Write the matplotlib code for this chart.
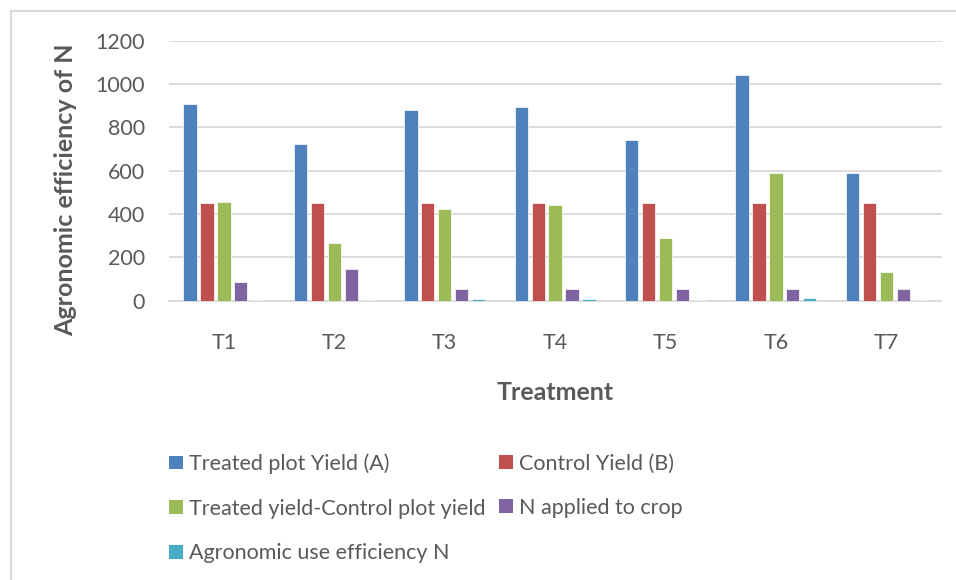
import matplotlib
matplotlib.use("Agg")
import matplotlib.pyplot as plt
import numpy as np
from matplotlib.lines import Line2D
from matplotlib.patches import Patch

plt.rcParams["font.family"] = ["Lato", "DejaVu Sans"]

treatments = ["T1", "T2", "T3", "T4", "T5", "T6", "T7"]
treated_yield = [909, 723, 880, 894, 744, 1041, 588]
control_yield = [451, 451, 451, 451, 451, 451, 451]
yield_diff = [454, 266, 423, 440, 289, 588, 132]
n_applied = [86, 145, 54, 54, 54, 54, 54]
agro_eff = [5.3, 1.8, 7.8, 8.1, 5.4, 10.9, 2.4]

series = [
    ("Treated plot Yield (A)", treated_yield, "#4f81bd"),
    ("Control Yield (B)", control_yield, "#c0504d"),
    ("Treated yield-Control plot yield", yield_diff, "#9bbb59"),
    ("N applied to crop", n_applied, "#8064a2"),
    ("Agronomic use efficiency N", agro_eff, "#4bacc6"),
]

TEXT = "#595959"
GRID = "#d9d9d9"

fig = plt.figure(figsize=(9.56, 5.8), dpi=100)
ax = fig.add_axes([168.7 / 956, 1 - 300.7 / 580, (941.5 - 168.7) / 956, 260 / 580])

x = np.arange(len(treatments))
pitch = 0.153
width = 0.12
for i, (label, vals, color) in enumerate(series):
    ax.bar(x + (i - 2) * pitch, vals, width=width, color=color,
           edgecolor="white", linewidth=0.5, zorder=3)

ax.set_xlim(-0.5, len(treatments) - 0.5)
ax.set_ylim(0, 1200)
ax.set_yticks(range(0, 1201, 200))
ax.set_xticks(x)
ax.set_xticklabels(treatments)
ax.yaxis.grid(True, color=GRID, linewidth=1.3, zorder=0)
ax.set_axisbelow(True)
for s in ["top", "right", "left"]:
    ax.spines[s].set_visible(False)
ax.spines["bottom"].set_color(GRID)
ax.spines["bottom"].set_linewidth(1.3)
ax.tick_params(axis="both", length=0, labelsize=15.5, labelcolor=TEXT)
ax.tick_params(axis="x", pad=23)
ax.tick_params(axis="y", pad=17)

fig.text(66 / 956, 1 - 190 / 580, "Agronomic efficiency of N", rotation=90,
         ha="center", va="center", fontsize=18, fontweight="bold", color=TEXT)
fig.text(555 / 956, 1 - 392 / 580, "Treatment", ha="center", va="center",
         fontsize=18, fontweight="bold", color=TEXT)

# legend in two fixed columns, like the Excel layout
handles = [Patch(facecolor=c, edgecolor="none", label=l) for l, _, c in series]
leg_kw = dict(loc="upper left", frameon=False, fontsize=15.5, borderpad=0,
              borderaxespad=0, handlelength=0.62, handleheight=0.62,
              handletextpad=0.3, labelspacing=1.14)
col1 = [0, 2, 4]
col2 = [1, 3]
leg1 = fig.legend([handles[k] for k in col1], [series[k][0] for k in col1],
                  bbox_to_anchor=(169.3 / 956, 1 - 453.5 / 580), **leg_kw)
leg2 = fig.legend([handles[k] for k in col2], [series[k][0] for k in col2],
                  bbox_to_anchor=(499.3 / 956, 1 - 453.5 / 580), **leg_kw)
for leg in (leg1, leg2):
    for t in leg.get_texts():
        t.set_color(TEXT)

# chart-area border (left and top edges visible)
fig.add_artist(Line2D([10.5 / 956, 10.5 / 956], [0, 1 - 11 / 580],
                      transform=fig.transFigure, color=GRID, linewidth=1.5))
fig.add_artist(Line2D([10.5 / 956, 1], [1 - 11 / 580, 1 - 11 / 580],
                      transform=fig.transFigure, color=GRID, linewidth=1.5))

fig.savefig("out.png", dpi=100)
